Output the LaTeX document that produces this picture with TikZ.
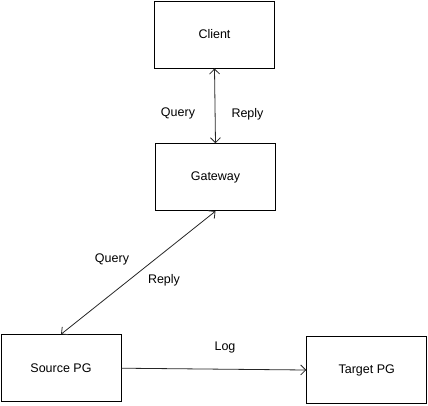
\documentclass[tikz,border=0pt]{standalone}
\usepackage{fontspec}
\setmainfont{Liberation Sans}
\usetikzlibrary{arrows.meta}
\begin{document}
\begin{tikzpicture}[x=1pt,y=-1pt,
  box/.style={draw=black,line width=0.9pt,minimum width=120pt,minimum height=67pt,inner sep=0pt,font=\fontsize{12.5}{14}\selectfont},
  lbl/.style={inner sep=0pt,font=\fontsize{12.5}{14}\selectfont},
  conn/.style={draw=black!85,line width=0.8pt,{Straight Barb[length=5pt,width=10pt]}-{Straight Barb[length=5pt,width=10pt]}},
  oneway/.style={draw=black!85,line width=0.8pt,-{Straight Barb[length=5pt,width=10pt]}}]
\useasboundingbox (0,0) rectangle (428,405);
\node[box] (client) at (214.5,34.5) {Client};
\node[box] (gateway) at (215.5,177.2) {Gateway};
\node[box] (source) at (61,368.2) {Source PG};
\node[box] (target) at (366.7,370) {Target PG};
\draw[conn] (client.south) -- (gateway.north);
\draw[conn] (gateway.south) -- (source.north);
\draw[oneway] (source.east) -- (target.west);
\node[lbl] (q1) at (178,113) {Query};
\node[lbl] (r1) at (247.5,114) {Reply};
\node[lbl] (q2) at (112,259) {Query};
\node[lbl] (r2) at (164,280) {Reply};
\node[lbl] (log) at (225,347.5) {Log};
\end{tikzpicture}
\end{document}
